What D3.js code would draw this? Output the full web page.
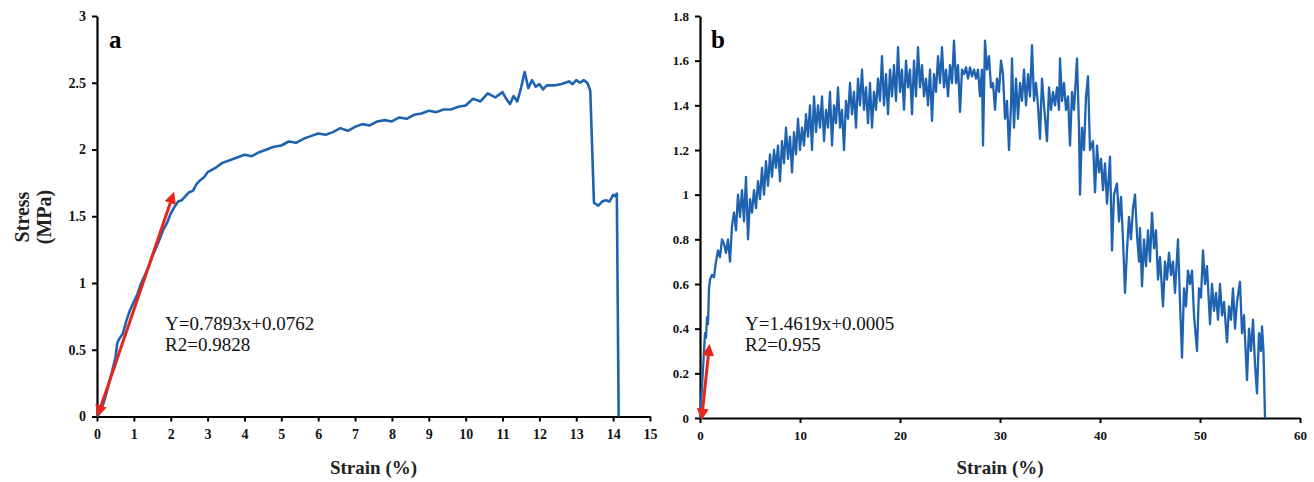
<!DOCTYPE html>
<html><head><meta charset="utf-8">
<script src="https://cdn.jsdelivr.net/npm/d3@7"></script>
<style>
html,body{margin:0;padding:0;background:#fff;}
text{font-family:"Liberation Serif","Times New Roman",serif;}
</style></head>
<body><svg id="c" width="1314" height="482"></svg>
<script>
// ---- Data ----
const ticksAx = [0,1,2,3,4,5,6,7,8,9,10,11,12,13,14,15];
const ticksAy = [0,0.5,1,1.5,2,2.5,3];
const ticksBx = [0,10,20,30,40,50,60];
const ticksBy = [0,0.2,0.4,0.6,0.8,1,1.2,1.4,1.6,1.8];
const fitA = ["Y=0.7893x+0.0762","R2=0.9828"];
const fitB = ["Y=1.4619x+0.0005","R2=0.955"];
const arrowA = [[0.05,0.03],[2.05,1.65]];
const arrowB = [[0.2,0.01],[0.9,0.31]];
// panel a: [strain %, stress MPa]
const curveA = [
[0,0],[0.1,0.04],[0.2,0.12],[0.3,0.22],[0.4,0.33],[0.5,0.44],[0.55,0.55],[0.6,0.58],[0.7,0.62],[0.8,0.72],
[0.9,0.80],[1.0,0.86],[1.1,0.92],[1.2,1.00],[1.3,1.06],[1.4,1.12],[1.5,1.20],[1.6,1.26],[1.7,1.33],[1.8,1.40],
[1.9,1.45],[2.0,1.52],[2.1,1.57],[2.2,1.61],[2.3,1.62],[2.4,1.65],[2.5,1.68],[2.6,1.69],[2.7,1.74],[2.8,1.77],
[2.9,1.79],[3.0,1.83],[3.2,1.86],[3.4,1.90],[3.6,1.92],[3.8,1.94],[4.0,1.96],[4.2,1.95],[4.4,1.98],[4.6,2.00],
[4.8,2.02],[5.0,2.03],[5.2,2.06],[5.4,2.05],[5.6,2.08],[5.8,2.10],[6.0,2.12],[6.2,2.11],[6.4,2.13],[6.6,2.16],
[6.8,2.14],[7.0,2.17],[7.2,2.19],[7.4,2.18],[7.6,2.21],[7.8,2.22],[8.0,2.21],[8.2,2.24],[8.4,2.23],[8.6,2.26],
[8.8,2.27],[9.0,2.29],[9.2,2.28],[9.4,2.30],[9.6,2.30],[9.8,2.32],[10.0,2.33],[10.2,2.38],[10.4,2.36],[10.6,2.42],
[10.8,2.39],[11.0,2.43],[11.1,2.38],[11.2,2.34],[11.3,2.40],[11.4,2.36],[11.5,2.46],[11.6,2.58],[11.7,2.46],[11.8,2.52],
[11.9,2.47],[12.0,2.49],[12.1,2.45],[12.2,2.48],[12.4,2.48],[12.6,2.49],[12.8,2.51],[12.9,2.49],[13.0,2.52],[13.1,2.50],
[13.2,2.52],[13.3,2.50],[13.38,2.44],[13.48,1.60],[13.6,1.58],[13.7,1.61],[13.8,1.62],[13.9,1.61],[14.0,1.66],[14.05,1.65],
[14.1,1.67],[14.15,0]
];
// panel b: [strain %, stress MPa]
const curveB = [
[0,0],[0.2,0.14],[0.4,0.30],[0.5,0.38],[0.6,0.36],[0.7,0.45],[0.8,0.42],[0.9,0.58],[1.0,0.62],[1.2,0.64],
[1.4,0.63],[1.6,0.70],[1.8,0.75],[2.0,0.72],[2.2,0.80],[2.4,0.78],[2.6,0.74],[2.8,0.80],[3.0,0.70],[3.2,0.86],
[3.4,0.92],[3.6,0.84],[3.8,1.00],[4.0,0.90],[4.2,1.02],[4.4,0.88],[4.6,1.08],[4.8,0.80],[5.0,0.98],[5.2,0.92],
[5.4,1.02],[5.6,0.94],[5.8,1.06],[6.0,0.98],[6.2,1.12],[6.4,1.00],[6.6,1.15],[6.8,1.04],[7.0,1.18],[7.2,1.08],
[7.4,1.20],[7.6,1.12],[7.8,1.22],[8.0,1.06],[8.2,1.24],[8.4,1.14],[8.6,1.30],[8.8,1.16],[9.0,1.26],[9.2,1.10],
[9.4,1.28],[9.6,1.18],[9.8,1.34],[10.0,1.20],[10.2,1.30],[10.4,1.22],[10.6,1.36],[10.8,1.26],[11.0,1.40],[11.2,1.20],
[11.4,1.44],[11.6,1.28],[11.8,1.40],[12.0,1.30],[12.2,1.44],[12.4,1.24],[12.6,1.38],[12.8,1.30],[13.0,1.46],[13.2,1.22],
[13.4,1.40],[13.6,1.32],[13.8,1.48],[14.0,1.30],[14.2,1.38],[14.4,1.20],[14.6,1.42],[14.8,1.34],[15.0,1.50],[15.2,1.36],
[15.4,1.46],[15.6,1.30],[15.8,1.52],[16.0,1.40],[16.2,1.56],[16.4,1.38],[16.6,1.48],[16.8,1.32],[17.0,1.50],[17.2,1.30],
[17.4,1.46],[17.6,1.38],[17.8,1.52],[18.0,1.42],[18.2,1.62],[18.4,1.40],[18.6,1.54],[18.8,1.36],[19.0,1.56],[19.2,1.44],
[19.4,1.58],[19.6,1.42],[19.8,1.66],[20.0,1.46],[20.2,1.56],[20.4,1.38],[20.6,1.60],[20.8,1.48],[21.0,1.56],[21.2,1.36],
[21.4,1.60],[21.6,1.44],[21.8,1.66],[22.0,1.48],[22.2,1.58],[22.4,1.44],[22.6,1.52],[22.8,1.40],[23.0,1.56],[23.2,1.33],
[23.4,1.54],[23.6,1.46],[23.8,1.62],[24.0,1.50],[24.2,1.66],[24.4,1.48],[24.6,1.56],[24.8,1.44],[25.0,1.58],[25.2,1.50],
[25.4,1.69],[25.6,1.50],[25.8,1.58],[26.0,1.37],[26.2,1.56],[26.4,1.54],[26.6,1.57],[26.8,1.52],[27.0,1.57],[27.2,1.53],
[27.4,1.56],[27.6,1.52],[27.8,1.56],[28.0,1.44],[28.2,1.56],[28.3,1.22],[28.5,1.69],[28.7,1.56],[28.9,1.62],[29.1,1.48],
[29.3,1.50],[29.5,1.38],[29.7,1.52],[29.9,1.46],[30.1,1.60],[30.3,1.54],[30.5,1.34],[30.7,1.42],[30.9,1.20],[31.1,1.40],
[31.2,1.61],[31.4,1.30],[31.6,1.52],[31.8,1.34],[32.0,1.50],[32.2,1.42],[32.4,1.56],[32.6,1.40],[32.8,1.54],[33.0,1.44],
[33.2,1.67],[33.4,1.42],[33.6,1.50],[33.8,1.40],[34.0,1.25],[34.2,1.52],[34.4,1.40],[34.7,1.24],[34.9,1.48],[35.1,1.38],
[35.3,1.46],[35.5,1.40],[35.7,1.48],[35.9,1.38],[36.0,1.61],[36.2,1.42],[36.4,1.50],[36.6,1.38],[36.8,1.44],[37.0,1.22],
[37.2,1.46],[37.4,1.38],[37.7,1.61],[37.9,1.30],[38.0,1.00],[38.2,1.30],[38.4,1.20],[38.6,1.44],[38.8,1.53],[39.0,1.20],
[39.3,1.24],[39.5,1.01],[39.7,1.22],[39.9,1.10],[40.1,1.16],[40.3,1.02],[40.5,1.14],[40.7,0.96],[41.0,1.17],[41.2,0.75],
[41.4,1.00],[41.7,1.05],[41.9,0.88],[42.1,0.99],[42.3,0.80],[42.5,0.56],[42.7,0.75],[42.9,0.90],[43.1,0.80],[43.3,0.94],
[43.5,1.00],[43.7,0.82],[43.9,0.70],[44.0,0.85],[44.2,0.59],[44.4,0.80],[44.6,0.68],[44.8,0.84],[45.0,0.70],[45.2,0.92],
[45.4,0.76],[45.6,0.84],[45.8,0.62],[46.0,0.72],[46.3,0.50],[46.5,0.70],[46.7,0.62],[46.9,0.74],[47.1,0.64],[47.3,0.70],
[47.5,0.56],[47.8,0.80],[48.0,0.52],[48.2,0.27],[48.4,0.58],[48.6,0.50],[48.8,0.66],[49.0,0.60],[49.2,0.66],[49.4,0.46],
[49.7,0.30],[49.9,0.58],[50.1,0.54],[50.3,0.75],[50.5,0.60],[50.7,0.68],[51.0,0.42],[51.2,0.60],[51.4,0.48],[51.6,0.56],
[51.8,0.44],[52.0,0.60],[52.2,0.46],[52.4,0.52],[52.7,0.34],[52.9,0.50],[53.1,0.44],[53.3,0.58],[53.5,0.40],[53.7,0.52],
[54.0,0.61],[54.2,0.38],[54.4,0.46],[54.7,0.17],[54.9,0.40],[55.1,0.30],[55.3,0.44],[55.5,0.24],[55.7,0.11],[55.9,0.38],
[56.1,0.30],[56.2,0.41],[56.35,0.30],[56.5,0.0]
];

// ---- Drawing ----
const svg = d3.select("#c");
const BLUE = "#1f63b0", RED = "#e5261f";
const defs = svg.append("defs");
defs.append("marker").attr("id","ah").attr("viewBox","0 0 10 10").attr("refX",6).attr("refY",5)
  .attr("markerWidth",4).attr("markerHeight",4).attr("orient","auto-start-reverse")
  .append("path").attr("d","M0,0 L10,5 L0,10 z").attr("fill",RED);

function panel(cfg){
  const g = svg.append("g");
  const x = d3.scaleLinear().domain(cfg.xd).range(cfg.xr);
  const y = d3.scaleLinear().domain(cfg.yd).range(cfg.yr);
  const ax = g.append("g").attr("transform",`translate(0,${cfg.yr[0]})`)
    .call(d3.axisBottom(x).tickValues(cfg.xt).tickSize(5).tickSizeOuter(0).tickPadding(8).tickFormat(d3.format("")));
  const ay = g.append("g").attr("transform",`translate(${cfg.xr[0]},0)`)
    .call(d3.axisLeft(y).tickValues(cfg.yt).tickSize(5).tickSizeOuter(0).tickPadding(6).tickFormat(d3.format("")));
  [ax,ay].forEach(a=>{
    a.select(".domain").attr("stroke","#000").attr("stroke-width",2.2);
    a.selectAll(".tick line").attr("stroke","#000").attr("stroke-width",2);
    a.selectAll(".tick text").attr("fill","#111").style("font-family","'Liberation Serif',serif")
      .style("font-weight","bold").style("font-size",cfg.tfs);
  });
  // fit annotation
  cfg.fit.forEach((t,i)=>{
    g.append("text").attr("x",cfg.fitX).attr("y",330+i*21).attr("font-size","19px").attr("fill","#111").text(t);
  });
  // curve
  g.append("path").datum(cfg.data)
    .attr("d",d3.line().x(d=>x(d[0])).y(d=>y(d[1])))
    .attr("fill","none").attr("stroke",BLUE).attr("stroke-width",cfg.lw).attr("stroke-linejoin","round");
  // red arrow
  g.append("line").attr("x1",x(cfg.arrow[0][0])).attr("y1",y(cfg.arrow[0][1]))
    .attr("x2",x(cfg.arrow[1][0])).attr("y2",y(cfg.arrow[1][1]))
    .attr("stroke",RED).attr("stroke-width",3)
    .attr("marker-start","url(#ah)").attr("marker-end","url(#ah)");
  // panel letter
  g.append("text").attr("x",cfg.letterX).attr("y",48).attr("font-size","25px").attr("font-weight","bold").text(cfg.letter);
  // x title
  g.append("text").attr("x",(cfg.xr[0]+cfg.xr[1])/2).attr("y",474).attr("text-anchor","middle")
    .attr("font-size","19px").attr("font-weight","bold").attr("fill","#222").text("Strain (%)");
  return {x,y};
}

panel({xd:[0,15],xr:[97,650],yd:[0,3],yr:[416.5,16],xt:ticksAx,yt:ticksAy,data:curveA,arrow:arrowA,
  fit:fitA,fitX:165,letter:"a",letterX:109,lw:2.6,tfs:"14px"});
panel({xd:[0,60],xr:[700,1300],yd:[0,1.8],yr:[418,16],xt:ticksBx,yt:ticksBy,data:curveB,arrow:arrowB,
  fit:fitB,fitX:745,letter:"b",letterX:711,lw:2.3,tfs:"13px"});

// y title (panel a)
const yt = svg.append("text").attr("transform","translate(0,217) rotate(-90)")
  .attr("text-anchor","middle").attr("font-size","20px").attr("font-weight","bold").attr("fill","#222");
yt.append("tspan").attr("x",0).attr("y",29).text("Stress");
yt.append("tspan").attr("x",0).attr("y",51).text("(MPa)");
</script></body></html>
